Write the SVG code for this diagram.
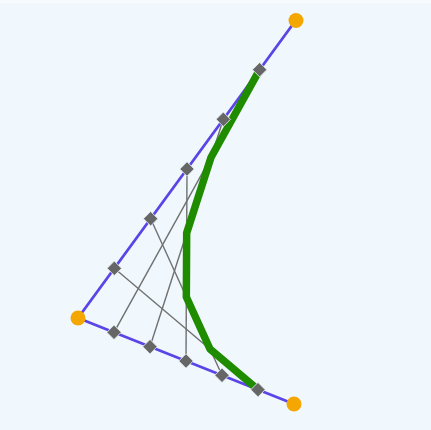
<svg xmlns="http://www.w3.org/2000/svg" width="431" height="430" viewBox="0 0 431 430">
  <style>
    .ctrl { stroke: #5b45e6; stroke-width: 2.8; fill: none; stroke-linecap: round; }
    .string { stroke: #707070; stroke-width: 1.4; fill: none; }
    .curve { stroke: #1f8c00; stroke-width: 7.5; fill: none; stroke-linejoin: round; stroke-linecap: round; }
    .pt { fill: #f4a700; }
    .dia { fill: #666; stroke: #e6eef2; stroke-width: 0.8; }
  </style>
  <defs>
    <rect id="d" x="-5.1" y="-5.1" width="10.2" height="10.2" transform="rotate(45)"/>
  </defs>
  <rect width="431" height="430" fill="#f0f8fd"/>
  <rect width="431" height="3" fill="#f7fbfe"/>
  <g id="connectors">
    <g id="control-polygon">
      <line class="ctrl" x1="296" y1="20" x2="78" y2="318"/>
      <line class="ctrl" x1="78" y1="318" x2="294" y2="404"/>
    </g>
    <g id="strings">
      <line class="string" x1="259.67" y1="69.67" x2="114" y2="332.33"/>
      <line class="string" x1="223.33" y1="119.33" x2="150" y2="346.67"/>
      <line class="string" x1="187" y1="169" x2="186" y2="361"/>
      <line class="string" x1="150.67" y1="218.67" x2="222" y2="375.33"/>
      <line class="string" x1="114.33" y1="268.33" x2="258" y2="389.67"/>
    </g>
    <polyline id="envelope" class="curve" points="259.67,69.67 211.1,157.2 186.67,233 186.33,297 210.1,349.2 258,389.67"/>
  </g>
  <g id="diamonds">
    <use href="#d" class="dia" x="259.67" y="69.67"/>
    <use href="#d" class="dia" x="223.33" y="119.33"/>
    <use href="#d" class="dia" x="187" y="169"/>
    <use href="#d" class="dia" x="150.67" y="218.67"/>
    <use href="#d" class="dia" x="114.33" y="268.33"/>
    <use href="#d" class="dia" x="114" y="332.33"/>
    <use href="#d" class="dia" x="150" y="346.67"/>
    <use href="#d" class="dia" x="186" y="361"/>
    <use href="#d" class="dia" x="222" y="375.33"/>
    <use href="#d" class="dia" x="258" y="389.67"/>
  </g>
  <g id="P0"><circle class="pt" cx="296" cy="20.5" r="7.5"/></g>
  <g id="P1"><circle class="pt" cx="78" cy="318" r="7.5"/></g>
  <g id="P2"><circle class="pt" cx="294" cy="404" r="7.5"/></g>
</svg>
